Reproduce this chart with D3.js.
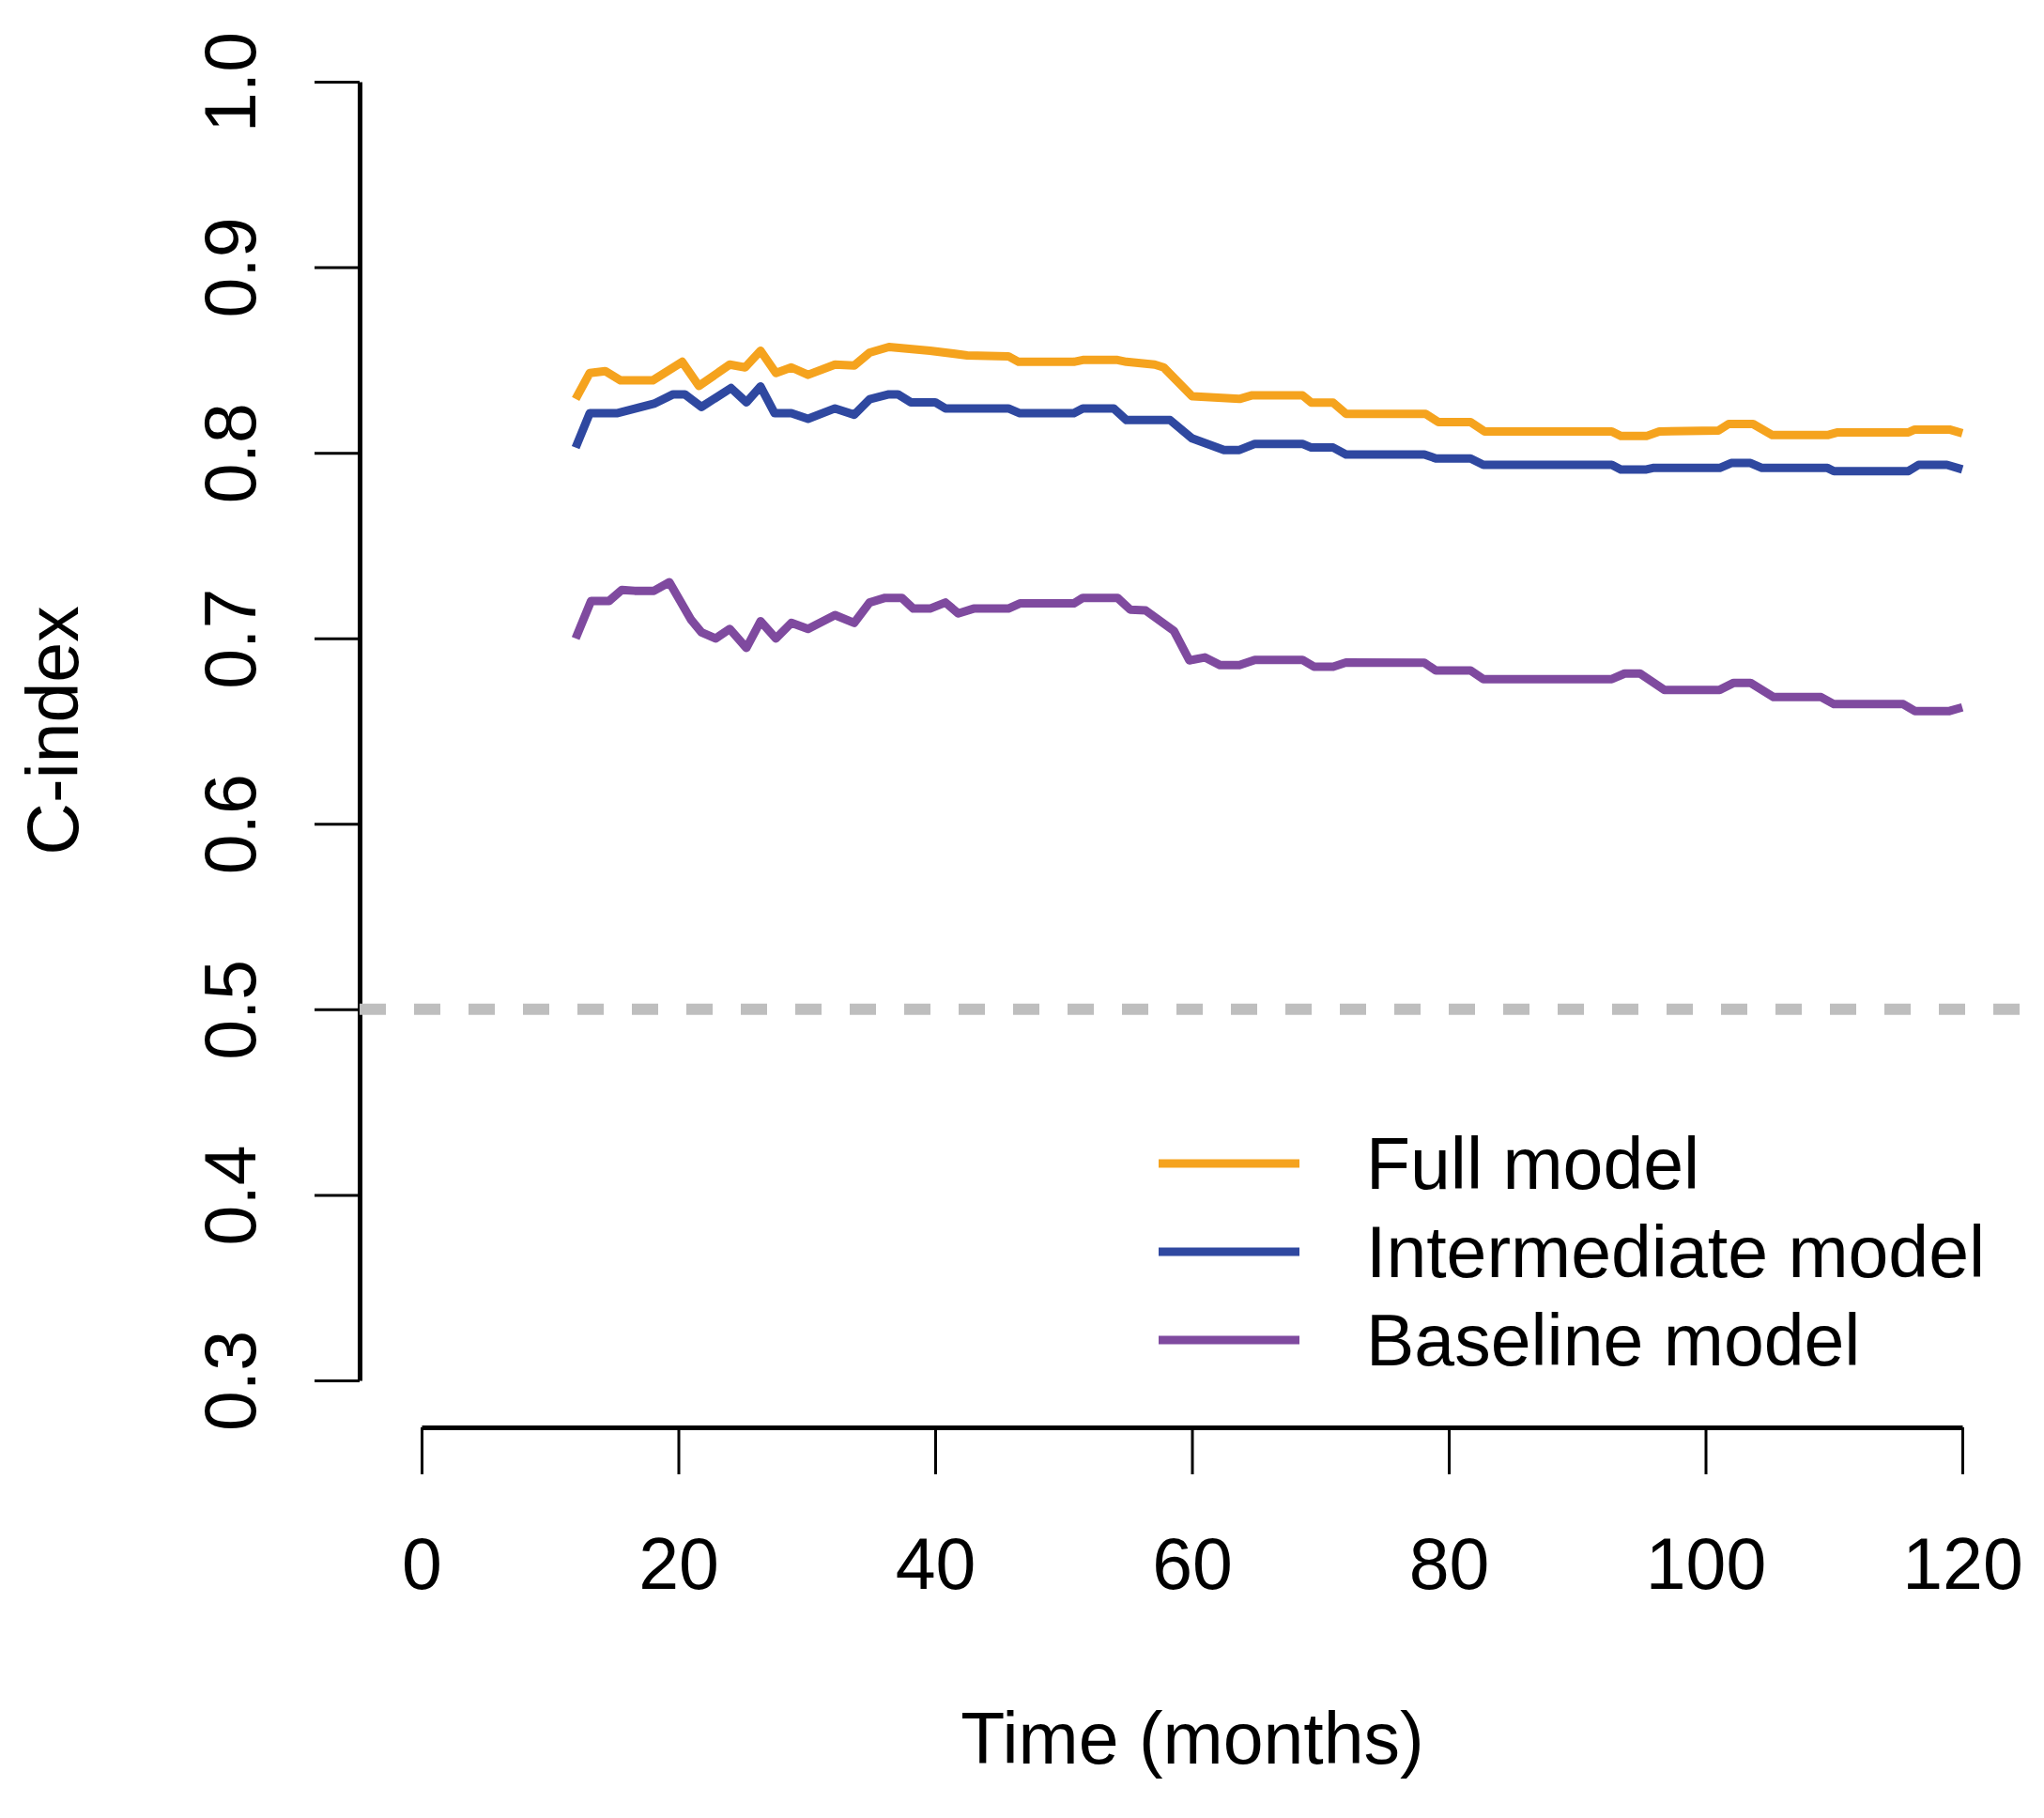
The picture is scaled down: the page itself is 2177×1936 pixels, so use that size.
<!DOCTYPE html>
<html>
<head>
  <meta charset="utf-8">
  <title>C-index over time</title>
  <script src="https://d3js.org/d3.v7.min.js"></script>
  <style>
    body {
      margin: 0;
      background: #fff;
    }
    text {
      font-family: "Liberation Sans", Arial, sans-serif;
      fill: #000;
    }
  </style>
</head>
<body>
  <div id="chart"></div>

  <script>
    // Values (months, C-index)
    var fullT = [12, 13.1, 14.3, 15.5, 18, 20.3, 21.6, 24, 25.2, 26.4, 27.6, 28.8, 30.1, 32.2, 33.7, 34.9, 36.4, 39.6, 42.5, 45.7,
                 46.5, 50.8, 51.5, 54.2, 54.9, 57.1, 57.8, 60, 63.7, 64.7, 68.6, 69.3, 71, 72, 78.2, 79.2, 81.7, 82.8, 92.7, 93.4,
                 95.4, 96.4, 101, 101.8, 103.7, 105.2, 109.5, 110.3, 115.8, 116.3, 119, 120];
    var fullC = [0.829, 0.843, 0.844, 0.839, 0.839, 0.849, 0.836, 0.8475, 0.846, 0.855, 0.843, 0.846, 0.842, 0.8475, 0.847, 0.854, 0.857, 0.855, 0.8525, 0.852,
                 0.849, 0.849, 0.850, 0.850, 0.849, 0.8475, 0.846, 0.8305, 0.829, 0.831, 0.831, 0.827, 0.827, 0.821, 0.821, 0.8165, 0.8165, 0.8115, 0.8115, 0.809,
                 0.809, 0.8115, 0.812, 0.8155, 0.8155, 0.8095, 0.8095, 0.811, 0.811, 0.8125, 0.8125, 0.8105];

    var interT = [12, 13.1, 15.2, 18.1, 19.6, 20.5, 21.8, 24.1, 25.3, 26.4, 27.5, 28.8, 30.1, 32.2, 33.7, 34.9, 36.4, 37.1, 38.1, 40,
                  40.8, 45.7, 46.6, 50.8, 51.5, 53.9, 54.9, 58.3, 60, 62.5, 63.7, 64.9, 68.6, 69.3, 71, 72, 78.1, 79, 81.7, 82.7,
                  92.7, 93.4, 95.4, 95.9, 101.1, 102, 103.5, 104.4, 109.5, 110, 115.8, 116.6, 118.8, 120];
    var interC = [0.8028, 0.8213, 0.8213, 0.8264, 0.8315, 0.8315, 0.8247, 0.8349, 0.8272, 0.8357, 0.8213, 0.8213, 0.8183, 0.8239, 0.8205, 0.8289, 0.8315, 0.8315, 0.8272, 0.8272,
                  0.8239, 0.8239, 0.8213, 0.8213, 0.8239, 0.8239, 0.8176, 0.8176, 0.8078, 0.8015, 0.8015, 0.8048, 0.8048, 0.8028, 0.8028, 0.7991, 0.7991, 0.7969, 0.7969, 0.7935,
                  0.7935, 0.791, 0.791, 0.7918, 0.7918, 0.7945, 0.7945, 0.7918, 0.7918, 0.7901, 0.7901, 0.7935, 0.7935, 0.791];

    var baseT = [12, 13.2, 14.6, 15.6, 16.6, 18.1, 19.3, 21, 21.8, 22.9, 24, 25.3, 26.4, 27.6, 28.8, 30.1, 32.2, 33.7, 34.9, 36.1,
                 37.4, 38.3, 39.6, 40.8, 41.8, 43, 45.7, 46.6, 50.8, 51.5, 54.2, 55.2, 56.4, 58.6, 59.8, 61, 62.2, 63.7, 64.9, 68.6,
                 69.5, 71, 72, 78.1, 79, 81.7, 82.7, 92.7, 93.7, 94.9, 96.8, 101.1, 102.2, 103.5, 105.3, 109, 110, 115.4, 116.3, 119, 120];
    var baseC = [0.6999, 0.7201, 0.7201, 0.7261, 0.7256, 0.7256, 0.7302, 0.7099, 0.7032, 0.6999, 0.705, 0.6948, 0.7092, 0.6999, 0.7083, 0.705, 0.7125, 0.7083, 0.7193, 0.7218,
                 0.7218, 0.716, 0.716, 0.7193, 0.7134, 0.716, 0.716, 0.7188, 0.7188, 0.7218, 0.7218, 0.7154, 0.715, 0.704, 0.6881, 0.6897, 0.6855, 0.6855, 0.6884, 0.6884,
                 0.6847, 0.6847, 0.687, 0.6868, 0.6826, 0.6826, 0.678, 0.678, 0.681, 0.681, 0.6722, 0.6722, 0.676, 0.676, 0.6683, 0.6683, 0.6645, 0.6645, 0.6608, 0.6608, 0.6628];

    var seriesNames = ["Full model", "Intermediate model", "Baseline model"];
    var seriesColors = ["#f5a31e", "#2f48a0", "#7f4a9f"];
    var xTicks = [0, 20, 40, 60, 80, 100, 120];
    var yTicks = [0.3, 0.4, 0.5, 0.6, 0.7, 0.8, 0.9, 1.0];
    var refLine = 0.5;

    var width = 2177;
    var height = 1936;

    var svg = d3.select("#chart")
      .append("svg")
      .attr("width", width)
      .attr("height", height);

    var x = d3.scaleLinear().domain([0, 120]).range([449, 2090]);
    var y = d3.scaleLinear().domain([0.3, 1.0]).range([1470, 87]);

    // x axis
    var xAxis = svg.append("g")
      .attr("transform", "translate(0,1520)")
      .call(d3.axisBottom(x).tickValues(xTicks).tickSize(50).tickSizeOuter(0).tickFormat(d3.format("d")));
    xAxis.select(".domain").attr("stroke", "#000").attr("stroke-width", 5);
    xAxis.selectAll(".tick line").attr("stroke", "#000").attr("stroke-width", 3);
    xAxis.selectAll(".tick text")
      .attr("y", 172)
      .attr("dy", null)
      .attr("font-size", 77)
      .attr("fill", "#000");
    xAxis.attr("font-family", null);

    // y axis
    var yAxis = svg.append("g")
      .attr("transform", "translate(383,0)")
      .call(d3.axisLeft(y).tickValues(yTicks).tickSize(48).tickSizeOuter(0).tickFormat(d3.format(".1f")));
    yAxis.select(".domain").attr("stroke", "#000").attr("stroke-width", 5);
    yAxis.selectAll(".tick line").attr("stroke", "#000").attr("stroke-width", 3);
    yAxis.selectAll(".tick text")
      .attr("x", null)
      .attr("dy", null)
      .attr("text-anchor", "middle")
      .attr("transform", "translate(-111,0) rotate(-90)")
      .attr("font-size", 77)
      .attr("fill", "#000");
    yAxis.attr("font-family", null);

    // reference line at 0.5
    svg.append("line")
      .attr("x1", 383)
      .attr("x2", 2156)
      .attr("y1", y(refLine))
      .attr("y2", y(refLine))
      .attr("stroke", "#bebebe")
      .attr("stroke-width", 12)
      .attr("stroke-dasharray", "28,30");

    // series
    var series = [
      d3.zip(fullT, fullC),
      d3.zip(interT, interC),
      d3.zip(baseT, baseC)
    ];

    var line = d3.line()
      .x(function(d) { return x(d[0]); })
      .y(function(d) { return y(d[1]); });

    svg.selectAll("path.series")
      .data(series)
      .enter()
      .append("path")
      .attr("class", "series")
      .attr("d", line)
      .attr("fill", "none")
      .attr("stroke", function(d, i) { return seriesColors[i]; })
      .attr("stroke-width", 9)
      .attr("stroke-linejoin", "round");

    // axis titles
    svg.append("text")
      .attr("x", 1270)
      .attr("y", 1878)
      .attr("text-anchor", "middle")
      .attr("font-size", 77)
      .text("Time (months)");

    svg.append("text")
      .attr("transform", "translate(83,778) rotate(-90)")
      .attr("text-anchor", "middle")
      .attr("font-size", 77)
      .text("C-index");

    // legend
    var legend = svg.selectAll("g.legend")
      .data(seriesNames)
      .enter()
      .append("g")
      .attr("class", "legend")
      .attr("transform", function(d, i) { return "translate(0," + (1239 + i * 94) + ")"; });

    legend.append("line")
      .attr("x1", 1234)
      .attr("x2", 1384)
      .attr("stroke", function(d, i) { return seriesColors[i]; })
      .attr("stroke-width", 9);

    legend.append("text")
      .attr("x", 1455)
      .attr("y", 27)
      .attr("font-size", 77)
      .text(function(d) { return d; });
  </script>
</body>
</html>
